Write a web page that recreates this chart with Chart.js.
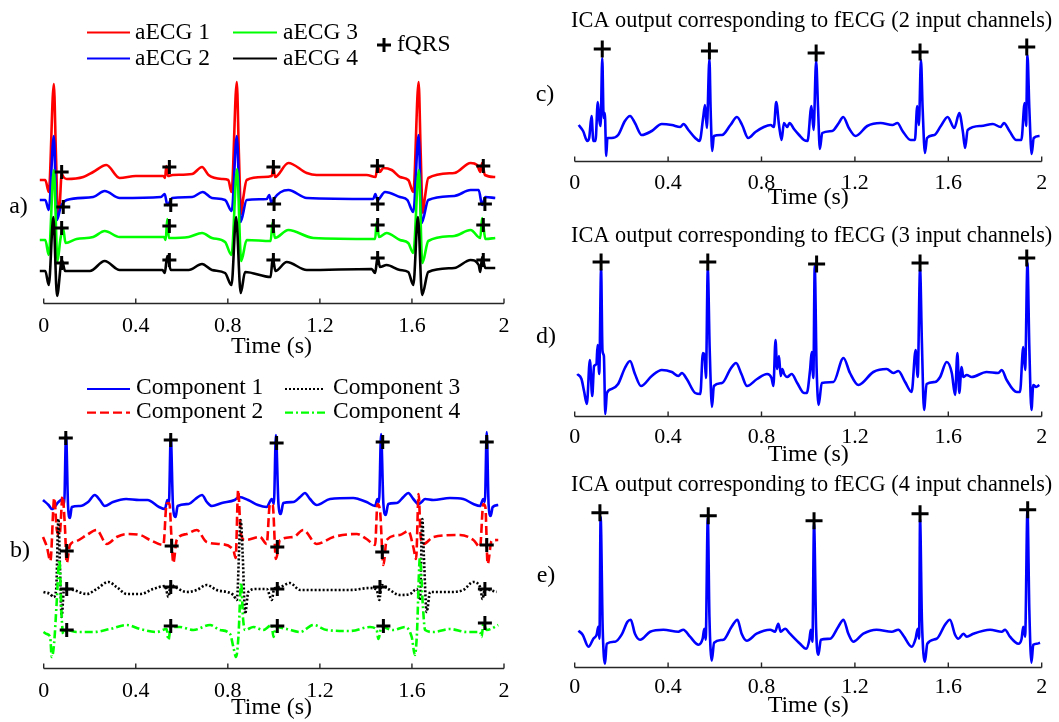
<!DOCTYPE html>
<html>
<head>
<meta charset="utf-8">
<title>Abdominal ECG and ICA outputs</title>
<script src="https://cdn.jsdelivr.net/npm/chart.js@4.4.1/dist/chart.umd.min.js"></script>
<style>
  html, body { margin: 0; padding: 0; background: #fff; overflow: hidden; }
  #fig { position: relative; width: 1059px; height: 722px; }
  #fig canvas { position: absolute; }
</style>
</head>
<body>
<div id="fig">
  <canvas id="panelA" width="530" height="363" style="left:0;top:0"></canvas>
  <canvas id="panelB" width="530" height="365" style="left:0;top:360px"></canvas>
  <canvas id="panelC" width="529" height="215" style="left:530px;top:0"></canvas>
  <canvas id="panelD" width="529" height="260" style="left:530px;top:215px"></canvas>
  <canvas id="panelE" width="529" height="257" style="left:530px;top:465px"></canvas>
</div>
<script>
// time axis ticks (s)
const timeTicks = [0, 0.4, 0.8, 1.2, 1.6, 2];

// a) abdominal leads, [time s, amplitude], each lead already shifted for stacking
const aecg1 = [[-0.017,1.23],[0.007,1.23],[0.022,1.11],[0.044,2.19],[0.053,1.5],[0.062,0.89],[0.07,1.0],[0.078,1.29],[0.086,1.26],[0.1,1.24],[0.172,1.26],[0.215,1.31],[0.272,1.38],[0.33,1.25],[0.4,1.27],[0.52,1.27],[0.527,1.25],[0.533,1.37],[0.54,1.27],[0.56,1.28],[0.645,1.29],[0.688,1.36],[0.716,1.28],[0.774,1.24],[0.802,1.23],[0.816,1.11],[0.839,2.21],[0.848,1.5],[0.858,0.89],[0.867,1.05],[0.882,1.23],[0.954,1.26],[0.991,1.27],[0.998,1.36],[1.005,1.26],[1.063,1.4],[1.143,1.3],[1.186,1.28],[1.403,1.28],[1.442,1.26],[1.451,1.38],[1.46,1.31],[1.476,1.35],[1.512,1.33],[1.548,1.26],[1.584,1.23],[1.606,1.11],[1.629,2.21],[1.638,1.5],[1.647,0.9],[1.656,1.05],[1.671,1.25],[1.784,1.3],[1.855,1.4],[1.883,1.38],[1.897,1.31],[1.905,1.4],[1.917,1.28],[1.962,1.26]];
const aecg2 = [[-0.017,1.03],[0.007,1.03],[0.022,0.93],[0.044,1.67],[0.057,0.83],[0.074,0.96],[0.1,1.03],[0.215,1.06],[0.265,1.12],[0.33,1.05],[0.509,1.06],[0.526,1.09],[0.537,0.98],[0.559,1.05],[0.645,1.06],[0.691,1.11],[0.731,1.05],[0.788,1.03],[0.817,0.92],[0.839,1.67],[0.855,0.81],[0.882,1.03],[0.969,1.04],[0.98,1.08],[0.991,0.99],[1.0,1.04],[1.063,1.13],[1.143,1.05],[1.432,1.04],[1.441,1.09],[1.45,1.03],[1.483,1.11],[1.548,1.06],[1.58,1.03],[1.606,0.91],[1.629,1.68],[1.642,0.8],[1.671,1.03],[1.784,1.07],[1.855,1.13],[1.89,1.13],[1.905,0.98],[1.919,1.06],[1.962,1.05]];
const aecg3 = [[-0.017,0.63],[0.007,0.63],[0.022,0.48],[0.044,1.33],[0.06,0.42],[0.072,0.63],[0.084,0.75],[0.095,0.6],[0.143,0.64],[0.215,0.66],[0.265,0.72],[0.33,0.66],[0.523,0.66],[0.53,0.63],[0.537,0.84],[0.544,0.65],[0.63,0.66],[0.688,0.7],[0.731,0.65],[0.788,0.61],[0.816,0.48],[0.84,1.34],[0.858,0.42],[0.882,0.63],[0.986,0.62],[0.995,0.81],[1.004,0.65],[1.063,0.73],[1.172,0.65],[1.44,0.64],[1.447,0.81],[1.457,0.66],[1.49,0.7],[1.548,0.63],[1.584,0.6],[1.606,0.5],[1.63,1.33],[1.645,0.4],[1.671,0.62],[1.784,0.67],[1.855,0.73],[1.897,0.65],[1.905,0.85],[1.919,0.64],[1.962,0.65]];
const aecg4 = [[-0.017,0.32],[0.007,0.32],[0.022,0.18],[0.042,0.86],[0.058,0.07],[0.079,0.43],[0.093,0.32],[0.201,0.32],[0.265,0.42],[0.33,0.33],[0.516,0.33],[0.526,0.3],[0.537,0.47],[0.552,0.33],[0.63,0.33],[0.688,0.39],[0.731,0.33],[0.788,0.3],[0.816,0.18],[0.836,0.86],[0.856,0.1],[0.875,0.31],[0.986,0.26],[0.995,0.45],[1.007,0.32],[1.056,0.41],[1.143,0.33],[1.425,0.34],[1.44,0.3],[1.451,0.46],[1.461,0.36],[1.49,0.38],[1.548,0.33],[1.584,0.31],[1.606,0.18],[1.626,0.86],[1.644,0.08],[1.671,0.31],[1.784,0.35],[1.855,0.43],[1.89,0.38],[1.897,0.31],[1.905,0.46],[1.919,0.35],[1.962,0.35]];
// a) detected fetal QRS on each lead
const fqrsA1 = [[0.078,1.31],[0.546,1.36],[0.998,1.36],[1.45,1.37],[1.91,1.37]];
const fqrsA2 = [[0.085,0.96],[0.552,0.98],[1.001,0.99],[1.451,0.99],[1.917,0.99]];
const fqrsA3 = [[0.078,0.75],[0.546,0.77],[0.998,0.77],[1.451,0.78],[1.91,0.78]];
const fqrsA4 = [[0.078,0.4],[0.546,0.43],[0.998,0.43],[1.451,0.45],[1.91,0.43]];

// b) separated components
const comp1 = [[-0.003,1.68],[0.021,1.63],[0.036,1.59],[0.064,1.66],[0.083,1.69],[0.089,1.64],[0.097,2.34],[0.106,1.61],[0.114,1.5],[0.122,1.61],[0.158,1.62],[0.193,1.66],[0.222,1.73],[0.244,1.68],[0.265,1.62],[0.301,1.66],[0.358,1.69],[0.415,1.68],[0.451,1.68],[0.501,1.61],[0.527,1.59],[0.537,1.68],[0.544,1.64],[0.552,2.32],[0.562,1.61],[0.573,1.51],[0.582,1.62],[0.63,1.64],[0.659,1.69],[0.688,1.73],[0.709,1.66],[0.731,1.62],[0.774,1.65],[0.83,1.68],[0.85,1.71],[0.888,1.68],[0.931,1.63],[0.969,1.61],[0.991,1.69],[1.0,1.64],[1.009,2.33],[1.02,1.64],[1.03,1.54],[1.041,1.65],[1.085,1.66],[1.114,1.71],[1.135,1.75],[1.157,1.69],[1.186,1.63],[1.244,1.69],[1.345,1.7],[1.367,1.69],[1.403,1.66],[1.44,1.62],[1.45,1.69],[1.457,1.66],[1.466,2.34],[1.476,1.64],[1.486,1.53],[1.497,1.64],[1.534,1.65],[1.563,1.71],[1.584,1.75],[1.606,1.69],[1.628,1.64],[1.642,1.66],[1.657,1.69],[1.693,1.68],[1.765,1.7],[1.823,1.69],[1.867,1.64],[1.896,1.62],[1.91,1.69],[1.917,1.66],[1.925,2.36],[1.933,1.64],[1.942,1.52],[1.951,1.61],[1.975,1.63]];
const comp2 = [[-0.003,1.31],[0.014,1.21],[0.029,1.07],[0.046,1.7],[0.057,1.38],[0.069,1.33],[0.082,1.72],[0.092,1.42],[0.1,1.05],[0.114,1.23],[0.143,1.27],[0.187,1.33],[0.23,1.38],[0.274,1.24],[0.317,1.31],[0.361,1.34],[0.419,1.33],[0.462,1.28],[0.52,1.23],[0.534,1.64],[0.546,1.65],[0.555,1.31],[0.563,1.05],[0.578,1.28],[0.621,1.34],[0.665,1.38],[0.708,1.26],[0.766,1.24],[0.824,1.18],[0.834,1.1],[0.845,1.78],[0.856,1.35],[0.875,1.28],[0.94,1.31],[0.969,1.24],[0.983,1.64],[0.995,1.63],[1.009,1.09],[1.027,1.28],[1.085,1.31],[1.128,1.38],[1.186,1.24],[1.259,1.31],[1.36,1.34],[1.403,1.29],[1.44,1.23],[1.45,1.64],[1.461,1.58],[1.476,1.03],[1.49,1.28],[1.548,1.33],[1.584,1.37],[1.606,1.21],[1.618,1.09],[1.629,1.74],[1.638,1.31],[1.65,1.24],[1.693,1.31],[1.809,1.33],[1.867,1.28],[1.896,1.21],[1.91,1.64],[1.919,1.61],[1.929,1.04],[1.946,1.27],[1.975,1.28]];
const comp3 = [[-0.001,0.76],[0.028,0.74],[0.042,0.71],[0.054,0.78],[0.064,1.49],[0.071,0.98],[0.078,0.51],[0.088,0.78],[0.1,0.79],[0.129,0.78],[0.187,0.74],[0.23,0.79],[0.281,0.86],[0.317,0.81],[0.361,0.74],[0.419,0.74],[0.476,0.79],[0.527,0.82],[0.542,0.71],[0.552,0.83],[0.571,0.81],[0.621,0.76],[0.665,0.78],[0.708,0.83],[0.752,0.78],[0.824,0.73],[0.839,0.68],[0.856,1.48],[0.865,1.11],[0.875,0.54],[0.889,0.76],[0.925,0.79],[0.969,0.79],[0.991,0.68],[1.001,0.79],[1.027,0.81],[1.07,0.85],[1.114,0.78],[1.186,0.78],[1.331,0.78],[1.418,0.8],[1.447,0.78],[1.458,0.68],[1.468,0.83],[1.497,0.79],[1.548,0.73],[1.592,0.74],[1.621,0.79],[1.635,0.68],[1.645,1.49],[1.652,1.11],[1.664,0.56],[1.679,0.76],[1.765,0.76],[1.823,0.78],[1.867,0.86],[1.896,0.81],[1.907,0.69],[1.917,0.79],[1.939,0.78],[1.968,0.76]];
const comp4 = [[-0.001,0.36],[0.013,0.34],[0.028,0.31],[0.035,0.11],[0.045,0.24],[0.056,0.64],[0.068,1.08],[0.078,0.51],[0.085,0.34],[0.1,0.38],[0.143,0.36],[0.216,0.36],[0.288,0.39],[0.361,0.43],[0.419,0.39],[0.491,0.36],[0.534,0.39],[0.542,0.28],[0.552,0.41],[0.592,0.41],[0.65,0.38],[0.723,0.43],[0.766,0.38],[0.81,0.34],[0.824,0.21],[0.836,0.11],[0.846,0.31],[0.858,0.85],[0.866,0.5],[0.875,0.38],[0.911,0.41],[0.954,0.38],[0.991,0.43],[0.998,0.31],[1.009,0.41],[1.056,0.39],[1.114,0.36],[1.172,0.43],[1.23,0.38],[1.331,0.37],[1.418,0.41],[1.447,0.38],[1.454,0.29],[1.468,0.41],[1.519,0.38],[1.57,0.41],[1.599,0.31],[1.613,0.13],[1.621,0.31],[1.635,1.11],[1.647,0.64],[1.657,0.38],[1.693,0.36],[1.765,0.39],[1.838,0.36],[1.896,0.36],[1.903,0.31],[1.91,0.44],[1.925,0.38],[1.975,0.43]];
const fqrsB1 = [[0.096,2.3],[0.552,2.28],[1.012,2.25],[1.473,2.26],[1.925,2.26]];
const fqrsB2 = [[0.1,1.17],[0.556,1.22],[1.015,1.21],[1.471,1.16],[1.925,1.23]];
const fqrsB3 = [[0.1,0.79],[0.552,0.81],[1.015,0.79],[1.461,0.81],[1.917,0.79]];
const fqrsB4 = [[0.1,0.38],[0.552,0.42],[1.015,0.42],[1.476,0.42],[1.917,0.45]];

// c)-e) fetal ICA output for 2, 3 and 4 input channels
const icaC = [[0.017,0.36],[0.036,0.3],[0.054,0.2],[0.062,0.23],[0.072,0.45],[0.08,0.2],[0.089,0.2],[0.099,0.59],[0.106,0.4],[0.111,0.35],[0.118,1.03],[0.124,0.43],[0.129,0.48],[0.135,0.05],[0.14,0.23],[0.158,0.23],[0.186,0.26],[0.215,0.4],[0.237,0.45],[0.258,0.38],[0.287,0.26],[0.33,0.3],[0.373,0.37],[0.416,0.36],[0.452,0.34],[0.466,0.37],[0.487,0.31],[0.516,0.23],[0.535,0.2],[0.55,0.43],[0.558,0.56],[0.566,0.33],[0.577,1.02],[0.582,0.53],[0.589,0.1],[0.596,0.25],[0.631,0.26],[0.667,0.36],[0.695,0.44],[0.717,0.36],[0.743,0.23],[0.774,0.29],[0.81,0.34],[0.839,0.36],[0.853,0.34],[0.863,0.59],[0.875,0.36],[0.886,0.21],[0.896,0.38],[0.91,0.34],[0.92,0.38],[0.939,0.32],[0.961,0.26],[0.982,0.21],[0.997,0.2],[1.014,0.55],[1.023,0.31],[1.034,1.0],[1.042,0.54],[1.05,0.12],[1.06,0.28],[1.103,0.3],[1.131,0.38],[1.15,0.44],[1.174,0.33],[1.203,0.25],[1.253,0.35],[1.31,0.38],[1.361,0.36],[1.382,0.38],[1.404,0.3],[1.439,0.21],[1.457,0.21],[1.467,0.55],[1.474,0.36],[1.483,1.01],[1.49,0.53],[1.5,0.08],[1.509,0.23],[1.54,0.26],[1.568,0.35],[1.597,0.44],[1.626,0.33],[1.647,0.48],[1.662,0.3],[1.672,0.13],[1.683,0.31],[1.74,0.35],[1.791,0.37],[1.824,0.34],[1.838,0.38],[1.862,0.3],[1.891,0.21],[1.913,0.21],[1.927,0.58],[1.933,0.35],[1.939,1.06],[1.947,0.53],[1.957,0.07],[1.966,0.23],[1.991,0.25]];
const icaD = [[0.011,0.42],[0.029,0.37],[0.04,0.25],[0.052,0.12],[0.065,0.56],[0.075,0.2],[0.083,0.5],[0.093,0.52],[0.098,0.71],[0.105,0.42],[0.113,1.47],[0.119,0.65],[0.125,0.6],[0.131,0.02],[0.138,0.23],[0.158,0.27],[0.186,0.32],[0.215,0.48],[0.237,0.55],[0.258,0.42],[0.284,0.3],[0.33,0.4],[0.373,0.46],[0.416,0.44],[0.444,0.4],[0.459,0.43],[0.48,0.37],[0.516,0.23],[0.538,0.22],[0.549,0.63],[0.556,0.61],[0.562,0.38],[0.57,1.47],[0.578,0.68],[0.588,0.09],[0.596,0.3],[0.631,0.33],[0.667,0.47],[0.691,0.53],[0.714,0.42],[0.738,0.3],[0.781,0.37],[0.824,0.42],[0.843,0.38],[0.851,0.3],[0.86,0.76],[0.867,0.47],[0.875,0.6],[0.882,0.4],[0.889,0.47],[0.897,0.42],[0.91,0.39],[0.929,0.42],[0.953,0.33],[0.982,0.23],[0.994,0.23],[1.008,0.46],[1.015,0.64],[1.022,0.38],[1.028,1.5],[1.036,0.48],[1.045,0.11],[1.058,0.33],[1.108,0.34],[1.151,0.58],[1.179,0.43],[1.215,0.31],[1.279,0.44],[1.336,0.47],[1.365,0.43],[1.386,0.45],[1.415,0.34],[1.443,0.24],[1.46,0.66],[1.469,0.39],[1.479,1.47],[1.487,0.73],[1.496,0.06],[1.507,0.32],[1.543,0.34],[1.565,0.39],[1.593,0.54],[1.615,0.43],[1.629,0.21],[1.639,0.63],[1.647,0.23],[1.657,0.49],[1.664,0.39],[1.679,0.41],[1.7,0.39],[1.764,0.44],[1.814,0.43],[1.829,0.46],[1.85,0.36],[1.893,0.24],[1.907,0.24],[1.921,0.69],[1.929,0.46],[1.939,1.53],[1.947,0.69],[1.956,0.06],[1.964,0.31],[1.976,0.29],[1.99,0.31]];
const icaE = [[0.016,0.36],[0.034,0.32],[0.059,0.2],[0.08,0.28],[0.094,0.32],[0.101,0.4],[0.106,0.28],[0.111,1.5],[0.12,0.37],[0.13,0.03],[0.137,0.23],[0.173,0.25],[0.201,0.32],[0.226,0.45],[0.24,0.47],[0.258,0.33],[0.28,0.27],[0.323,0.35],[0.38,0.37],[0.444,0.35],[0.465,0.37],[0.494,0.3],[0.53,0.22],[0.548,0.28],[0.555,0.38],[0.561,0.27],[0.57,1.49],[0.577,0.5],[0.587,0.06],[0.597,0.24],[0.637,0.27],[0.672,0.4],[0.697,0.47],[0.715,0.33],[0.737,0.26],[0.779,0.33],[0.837,0.37],[0.858,0.35],[0.872,0.43],[0.882,0.35],[0.901,0.38],[0.922,0.33],[0.965,0.23],[0.991,0.18],[1.005,0.27],[1.011,0.37],[1.018,0.25],[1.025,1.43],[1.034,0.37],[1.044,0.12],[1.054,0.27],[1.094,0.28],[1.129,0.4],[1.151,0.47],[1.172,0.33],[1.193,0.25],[1.236,0.33],[1.293,0.37],[1.358,0.35],[1.386,0.37],[1.408,0.31],[1.443,0.2],[1.46,0.28],[1.469,0.38],[1.475,0.28],[1.479,1.48],[1.487,0.47],[1.5,0.05],[1.51,0.23],[1.55,0.28],[1.586,0.42],[1.607,0.47],[1.629,0.32],[1.643,0.28],[1.665,0.33],[1.679,0.3],[1.707,0.33],[1.779,0.37],[1.829,0.35],[1.843,0.37],[1.864,0.3],[1.9,0.23],[1.914,0.28],[1.921,0.4],[1.929,0.3],[1.939,1.57],[1.947,0.57],[1.956,0.04],[1.964,0.22],[1.979,0.23],[1.993,0.24]];
const fqrsC = [[0.118,1.12],[0.577,1.1],[1.034,1.08],[1.479,1.09],[1.936,1.14]];
const fqrsD = [[0.113,1.54],[0.57,1.54],[1.036,1.52],[1.479,1.53],[1.936,1.58]];
const fqrsE = [[0.108,1.54],[0.572,1.51],[1.025,1.46],[1.479,1.53],[1.94,1.57]];

const SERIF = '"Liberation Serif", "Times New Roman", serif';
Chart.defaults.font.family = SERIF;
Chart.defaults.color = '#000';

const xy = pts => pts.map(([x, y]) => ({ x, y }));

function wave(label, pts, color, order, dash) {
  return {
    type: 'line', label, data: xy(pts), order,
    borderColor: color, borderWidth: 2.6, borderDash: dash || [],
    pointRadius: 0, cubicInterpolationMode: 'monotone', fill: false
  };
}

function fqrs(pts, r) {
  return {
    type: 'scatter', label: 'fQRS', data: xy(pts), order: 0, clip: false,
    pointStyle: 'cross', pointRadius: r, pointBorderWidth: 3, borderWidth: 3,
    borderColor: '#000', backgroundColor: '#000'
  };
}

// bottom axis line with inward tick marks
const baseAxis = {
  id: 'baseAxis',
  beforeDatasetsDraw(chart) {
    const sx = chart.scales.x;
    const y = Math.round(chart.chartArea.bottom) + 0.5;
    const ctx = chart.ctx;
    ctx.save();
    ctx.strokeStyle = '#262626';
    ctx.lineWidth = 1.4;
    ctx.beginPath();
    ctx.moveTo(sx.getPixelForValue(timeTicks[0]), y);
    ctx.lineTo(sx.getPixelForValue(timeTicks[timeTicks.length - 1]), y);
    for (const t of sx.ticks) {
      const px = sx.getPixelForValue(t.value);
      ctx.moveTo(px, y);
      ctx.lineTo(px, y - 5);
    }
    ctx.stroke();
    ctx.restore();
  }
};

// free text: panel letters and panel headings (headings may run wider than the plot)
function label(text, x, y, size) {
  return {
    id: 'label',
    afterDraw(chart) {
      const ctx = chart.ctx;
      ctx.save();
      ctx.font = size + 'px ' + SERIF;
      ctx.fillStyle = '#000';
      ctx.textAlign = 'center';
      ctx.textBaseline = 'middle';
      ctx.fillText(text, x, y);
      ctx.restore();
    }
  };
}

// two-column key drawn from the dataset styles
function key(entries) {
  return {
    id: 'key',
    afterDraw(chart) {
      const ctx = chart.ctx;
      ctx.save();
      ctx.font = '23.5px ' + SERIF;
      ctx.textBaseline = 'middle';
      ctx.textAlign = 'left';
      ctx.fillStyle = '#000';
      for (const e of entries) {
        const ds = chart.data.datasets[e.ds];
        ctx.strokeStyle = ds.borderColor;
        ctx.beginPath();
        if (ds.pointStyle === 'cross') {
          ctx.lineWidth = 3;
          ctx.setLineDash([]);
          ctx.moveTo(e.x0 - 7, e.y); ctx.lineTo(e.x0 + 7, e.y);
          ctx.moveTo(e.x0, e.y - 7); ctx.lineTo(e.x0, e.y + 7);
        } else {
          ctx.lineWidth = 2.2;
          ctx.setLineDash(ds.borderDash);
          ctx.moveTo(e.x0, e.y); ctx.lineTo(e.x1, e.y);
        }
        ctx.stroke();
        ctx.fillText(ds.label, e.tx, e.ty);
      }
      ctx.restore();
    }
  };
}

function panel(id, datasets, o) {
  const extras = [label(o.tag[0], o.tag[1], o.tag[2], 24)];
  if (o.heading) extras.push(label(o.heading[0], o.heading[1], o.heading[2], 22.3));
  if (o.key) extras.push(key(o.key));
  return new Chart(document.getElementById(id), {
    type: 'line',
    data: { datasets },
    options: {
      responsive: false, animation: false, events: [], devicePixelRatio: 1,
      layout: { padding: o.pad },
      plugins: {
        legend: { display: false },
        tooltip: { enabled: false },
        title: { display: false }
      },
      scales: {
        x: {
          type: 'linear', min: o.xmin, max: 2,
          grid: { display: false }, border: { display: false },
          afterBuildTicks: s => { s.ticks = timeTicks.map(v => ({ value: v })); },
          afterFit: s => { s.height = o.axisH; },
          ticks: { padding: o.tickPad, color: '#000', font: { size: 22 }, maxRotation: 0, autoSkip: false, callback: v => String(v) },
          title: { display: true, text: 'Time (s)', color: '#000', font: { size: 24 }, padding: { top: 0, bottom: o.titlePad } }
        },
        y: { display: false, min: 0, max: o.ymax }
      }
    },
    plugins: [baseAxis].concat(extras)
  });
}

panel('panelA', [
  wave('aECG 1', aecg1, '#ff0000', 4),
  wave('aECG 2', aecg2, '#0000ff', 3),
  wave('aECG 3', aecg3, '#00ff00', 2),
  wave('aECG 4', aecg4, '#000000', 1),
  fqrs(fqrsA1, 7), fqrs(fqrsA2, 7), fqrs(fqrsA3, 7), fqrs(fqrsA4, 7)
], {
  pad: { left: 39.1, right: 26, top: 73, bottom: 0 }, xmin: -0.02, ymax: 2.3,
  axisH: 60, tickPad: 1.8, titlePad: 1.8, tag: ['a)', 18.5, 207],
  key: [
    { ds: 0, x0: 87, x1: 130, y: 32.5, tx: 135, ty: 33 },
    { ds: 1, x0: 87, x1: 130, y: 58.5, tx: 135, ty: 58.5 },
    { ds: 2, x0: 233, x1: 277, y: 32.5, tx: 283, ty: 33 },
    { ds: 3, x0: 233, x1: 277, y: 58.5, tx: 283, ty: 58.5 },
    { ds: 4, x0: 384, y: 45, tx: 397, ty: 44.5 }
  ]
});

panel('panelB', [
  wave('Component 1', comp1, '#0000ff', 4),
  wave('Component 2', comp2, '#ff0000', 3, [9, 4]),
  wave('Component 3', comp3, '#000000', 2, [2, 2]),
  wave('Component 4', comp4, '#00ff00', 1, [8, 3, 2, 3]),
  fqrs(fqrsB1, 7), fqrs(fqrsB2, 7), fqrs(fqrsB3, 7), fqrs(fqrsB4, 7)
], {
  pad: { left: 39.1, right: 26, top: 68, bottom: 0 }, xmin: -0.02, ymax: 2.4,
  axisH: 57, tickPad: 1.8, titlePad: 2.4, tag: ['b)', 20, 191],
  key: [
    { ds: 0, x0: 87, x1: 130, y: 29, tx: 136, ty: 27.5 },
    { ds: 1, x0: 87, x1: 130, y: 52.7, tx: 136, ty: 51.7 },
    { ds: 2, x0: 285, x1: 325, y: 29, tx: 333, ty: 27.5 },
    { ds: 3, x0: 285, x1: 325, y: 52.7, tx: 333, ty: 51.7 }
  ]
});

panel('panelC', [wave('fECG', icaC, '#0000ff', 1), fqrs(fqrsC, 8.5)], {
  pad: { left: 44.7, right: 17.3, top: 35.9, bottom: 0 }, xmin: 0, ymax: 1.251,
  heading: ['ICA output corresponding to fECG (2 input channels)', 281.7, 21.3],
  axisH: 54, tickPad: 0.8, titlePad: 2.4, tag: ['c)', 15, 95]
});

panel('panelD', [wave('fECG', icaD, '#0000ff', 1), fqrs(fqrsD, 8.5)], {
  pad: { left: 44.7, right: 17.3, top: 36.2, bottom: 0 }, xmin: 0, ymax: 1.648,
  heading: ['ICA output corresponding to fECG (3 input channels)', 281.7, 21.6],
  axisH: 59, tickPad: -0.2, titlePad: 5.4, tag: ['d)', 16, 121.7]
});

panel('panelE', [wave('fECG', icaE, '#0000ff', 1), fqrs(fqrsE, 8.5)], {
  pad: { left: 44.7, right: 17.3, top: 34.9, bottom: 0 }, xmin: 0, ymax: 1.668,
  heading: ['ICA output corresponding to fECG (4 input channels)', 281.7, 20.2],
  axisH: 55.3, tickPad: -0.9, titlePad: 1.9, tag: ['e)', 16, 110.7]
});
</script>
</body>
</html>
